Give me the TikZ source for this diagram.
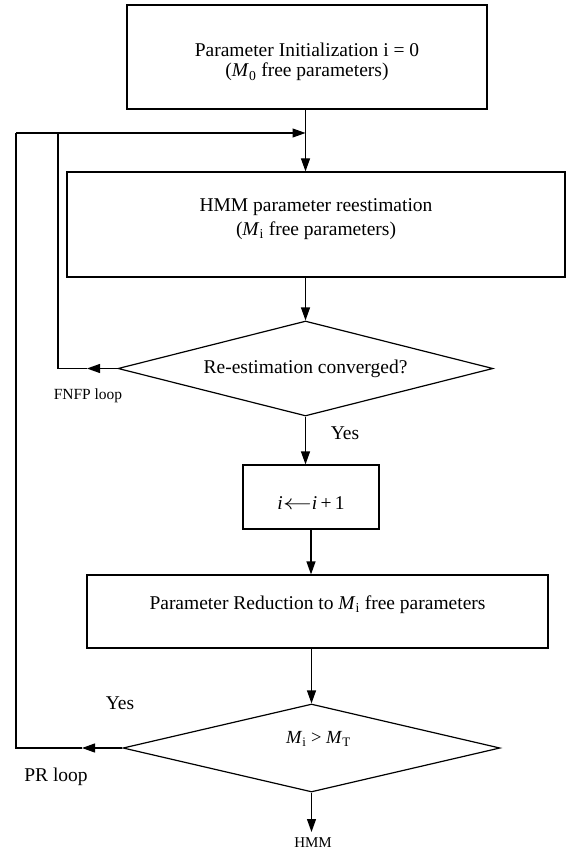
\documentclass[tikz,border=0pt]{standalone}
\usepackage{fontspec}
\usepackage{graphicx}
\setmainfont{Liberation Serif}
\usetikzlibrary{shapes.geometric,arrows.meta}
\newcommand{\mvtxt}[2]{\raisebox{#1}[\height][\depth]{#2}}
\begin{document}
\begin{tikzpicture}[x=1pt,y=-1pt,
  every node/.style={font=\fontsize{19.5}{22}\selectfont},
  boxnode/.style={draw, line width=1.2pt, inner sep=0pt, align=center},
  decision/.style={draw, diamond, line width=1.2pt, inner sep=0pt},
  arr/.style={line width=1.2pt, -{Triangle[length=13pt,width=9pt]}},
  ln/.style={line width=1.2pt},
  small/.style={font=\fontsize{15.5}{18}\selectfont}]
\useasboundingbox (0,0) rectangle (566,850);

\node[boxnode, minimum width=360pt, minimum height=104pt] (init) at (307,57)
  {\mvtxt{-5.5pt}{\begin{tabular}{@{}c@{}}Parameter Initialization i = 0\\[-2pt](\textit{M}\textsubscript{0} free parameters)\end{tabular}}};
\node[boxnode, minimum width=498pt, minimum height=105pt] (reest) at (316,224.5)
  {\mvtxt{5.5pt}{\begin{tabular}{@{}c@{}}HMM parameter reestimation\\[2pt](\textit{M}\textsubscript{i} free parameters)\end{tabular}}};
\node[decision, minimum width=375pt, minimum height=95pt, aspect=3.95] (conv) at (305.5,368.5)
  {Re-estimation converged?};
\node[boxnode, minimum width=136pt, minimum height=64pt] (inc) at (311,497)
  {\mvtxt{-6pt}{\textit{i}\scalebox{1.4}[1]{$\leftarrow$}\textit{i}\,+\,1}};
\node[boxnode, minimum width=461pt, minimum height=73pt] (red) at (317.5,611.5)
  {\mvtxt{6.5pt}{Parameter Reduction to \textit{M}\textsubscript{i} free parameters}};
\node[decision, minimum width=377pt, minimum height=88pt, aspect=4.28,
      font=\fontsize{18.5}{22}\selectfont] (cmp) at (311.5,748)
  {\mvtxt{9pt}{\hspace*{14pt}\textit{M}\textsubscript{i} > \textit{M}\textsubscript{T}}};

\coordinate (fa) at (87,368.5);
\coordinate (fb) at (58,368.5);
\coordinate (fc) at (58,133);
\coordinate (pa) at (82,748);
\coordinate (pb) at (16,748);
\coordinate (pc) at (16,133);
\coordinate (hmmout) at (311.5,832);

\draw[arr] (init.south -| conv.north) -- (reest.north -| conv.north);
\draw[arr] (reest.south -| conv.north) -- (conv.north);
\draw[arr] (conv.south) -- (conv.south |- inc.north);
\draw[arr] (inc.south) -- (inc.south |- red.north);
\draw[arr] (red.south -| cmp.north) -- (cmp.north);
\draw[arr] (cmp.south) -- (hmmout);
\draw[arr] (conv.west) -- (fa);
\draw[ln] (fa) -- (fb) -- (fc);
\draw[arr] (cmp.west) -- (pa);
\draw[ln] (pa) -- (pb) -- (pc);
\draw[arr] (pc) -- (pc -| conv.north);

\node[small] (fnfp) at (88,396) {FNFP loop};
\node (yes1) at (345,433) {Yes};
\node (yes2) at (120,703) {Yes};
\node (prl) at (56,777) {PR loop};
\node[font=\fontsize{15}{18}\selectfont] (hmmlbl) at (313,843) {HMM};
\end{tikzpicture}
\end{document}
